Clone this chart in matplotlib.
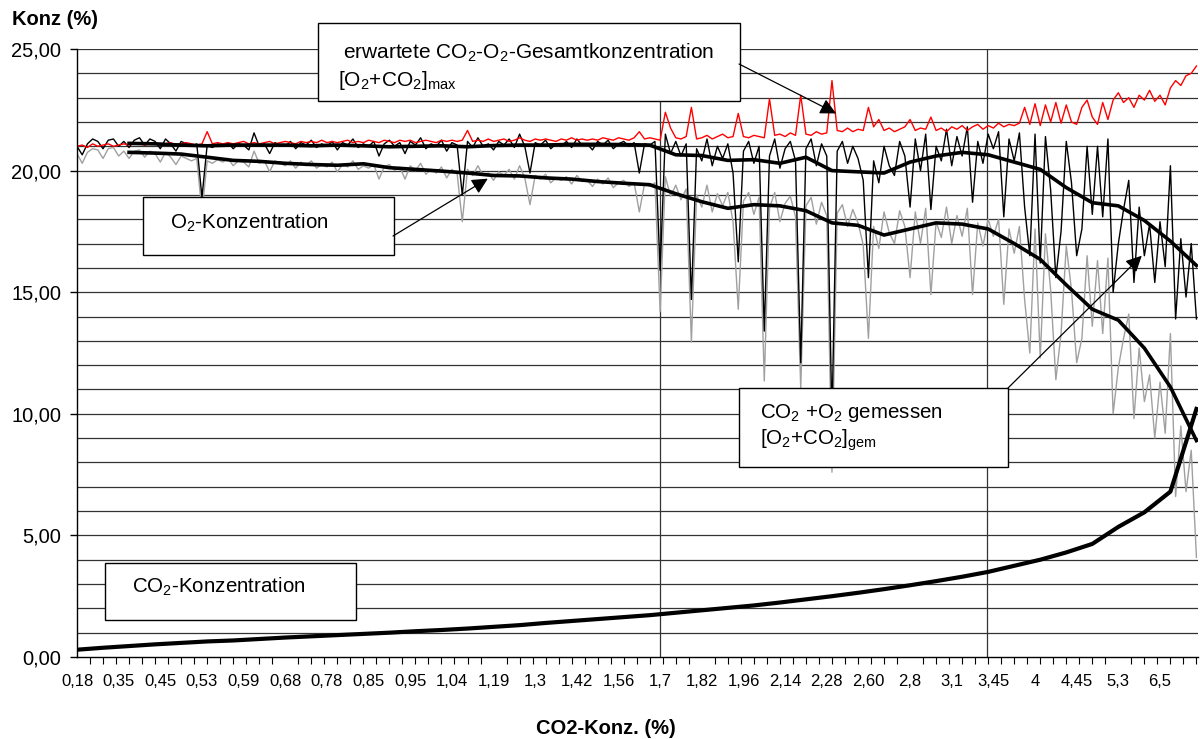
import numpy as np
import matplotlib
matplotlib.use("Agg")
import matplotlib.pyplot as plt
from matplotlib.patches import Rectangle

plt.rcParams['font.family'] = ['Liberation Sans', 'DejaVu Sans']
plt.rcParams['mathtext.fontset'] = 'custom'
plt.rcParams['mathtext.rm'] = 'Liberation Sans'
plt.rcParams['mathtext.it'] = 'Liberation Sans:italic'
plt.rcParams['mathtext.bf'] = 'Liberation Sans:bold'

# Kategorien-Beschriftung (CO2-Konz.), jede 8. Messung beschriftet
co2_labels = ['0,18', '0,35', '0,45', '0,53', '0,59', '0,68', '0,78', '0,85', '0,95',
              '1,04', '1,19', '1,3', '1,42', '1,56', '1,7', '1,82', '1,96', '2,14',
              '2,28', '2,60', '2,8', '3,1', '3,45', '4', '4,45', '5,3', '6,5']
label_step = 8

# erwartete Gesamtkonzentration [O2+CO2]max (rot)
sum_max = [
    21.00, 21.05, 20.95, 21.10, 21.00, 21.05, 21.10, 21.00, 21.05, 21.10,
    21.05, 21.15, 21.10, 21.05, 21.10, 21.15, 21.05, 21.10, 21.15, 21.05,
    21.10, 21.15, 21.10, 21.05, 21.10, 21.60, 21.10, 21.15, 21.10, 21.15,
    21.10, 21.15, 21.20, 21.10, 21.15, 21.10, 21.15, 21.20, 21.10, 21.15,
    21.20, 21.15, 21.10, 21.20, 21.15, 21.20, 21.15, 21.25, 21.15, 21.20,
    21.15, 21.20, 21.25, 21.15, 21.20, 21.15, 21.25, 21.20, 21.15, 21.25,
    21.20, 21.15, 21.25, 21.20, 21.25, 21.15, 21.20, 21.25, 21.20, 21.15,
    21.25, 21.20, 21.25, 21.20, 21.25, 21.65, 21.20, 21.25, 21.20, 21.30,
    21.20, 21.25, 21.30, 21.20, 21.25, 21.35, 21.25, 21.20, 21.30, 21.25,
    21.30, 21.25, 21.20, 21.30, 21.25, 21.35, 21.25, 21.30, 21.25, 21.30,
    21.25, 21.35, 21.30, 21.25, 21.35, 21.30, 21.25, 21.35, 21.60, 21.30,
    21.35, 21.30, 21.25, 22.40, 21.75, 21.35, 21.30, 21.40, 22.60, 21.30,
    21.35, 21.45, 21.30, 21.40, 21.50, 21.35, 21.40, 22.35, 21.40, 21.35,
    21.45, 21.40, 21.35, 22.95, 21.45, 21.50, 21.40, 21.55, 21.45, 23.10,
    21.50, 21.45, 21.60, 21.50, 21.55, 23.70, 21.65, 21.60, 21.75, 21.60,
    21.70, 21.65, 22.60, 21.80, 22.10, 21.65, 21.75, 21.60, 21.70, 21.80,
    22.10, 21.65, 21.75, 21.70, 22.20, 21.65, 21.75, 21.60, 21.80, 21.70,
    21.85, 21.65, 21.80, 21.90, 21.70, 21.85, 21.75, 21.95, 21.80, 21.90,
    21.85, 21.95, 22.60, 21.90, 22.75, 21.85, 22.70, 22.00, 22.80, 21.95,
    22.70, 22.00, 21.90, 22.60, 22.90, 22.20, 21.90, 22.80, 22.10, 22.90,
    23.20, 22.80, 23.00, 22.60, 23.10, 22.90, 23.30, 22.85, 23.10, 22.70,
    23.40, 23.70, 23.50, 23.90, 24.00, 24.30]

# gemessene Summe CO2 + O2 (schwarz, duenn)
sum_gem = [
    21.00, 20.65, 21.10, 21.30, 21.20, 20.90, 21.25, 21.30, 21.00, 21.20,
    20.95, 21.25, 21.35, 21.05, 21.30, 21.20, 20.90, 21.30, 21.10, 20.80,
    21.20, 21.10, 21.00, 21.10, 18.90, 21.05, 20.95, 21.10, 21.00, 21.15,
    20.90, 21.10, 21.05, 20.85, 21.55, 21.00, 21.10, 20.70, 21.15, 21.05,
    21.00, 21.20, 20.90, 21.15, 21.05, 21.25, 20.95, 21.10, 21.00, 21.20,
    20.85, 21.15, 21.05, 21.30, 20.95, 21.10, 21.00, 21.20, 20.60, 21.10,
    21.25, 21.00, 21.15, 20.70, 21.20, 21.05, 21.35, 20.90, 21.10, 21.00,
    21.25, 20.80, 21.15, 21.05, 19.00, 21.20, 20.95, 21.35, 21.00, 21.10,
    20.85, 21.20, 21.05, 21.30, 20.95, 21.50, 21.00, 19.90, 21.15, 21.05,
    21.25, 20.90, 21.10, 21.00, 21.20, 20.95, 21.30, 21.05, 21.10, 20.85,
    21.20, 21.05, 21.25, 20.90, 21.10, 21.20, 21.00, 21.15, 19.90, 21.10,
    21.05, 21.20, 15.90, 21.50, 20.70, 21.20, 20.60, 21.10, 14.70, 20.90,
    20.40, 21.30, 20.20, 21.00, 20.50, 21.10, 19.90, 16.25, 20.80, 21.20,
    20.30, 21.00, 13.40, 20.60, 21.30, 20.10, 20.90, 21.20, 20.40, 12.10,
    20.90, 21.30, 20.20, 21.10, 20.60, 9.80, 20.80, 21.20, 20.30, 21.00,
    20.50, 19.60, 15.60, 20.40, 19.50, 21.00, 20.20, 19.80, 21.20, 20.60,
    18.50, 21.30, 20.00, 21.50, 18.40, 21.00, 20.40, 21.70, 20.20, 21.40,
    20.60, 21.80, 18.70, 21.20, 20.30, 21.50, 20.90, 21.60, 18.10, 21.30,
    20.40, 21.55, 18.50, 16.50, 21.50, 16.20, 21.40, 19.20, 15.60, 17.50,
    21.20, 19.50, 16.50, 17.60, 21.00, 18.20, 21.00, 18.10, 21.30, 15.00,
    17.00, 18.40, 19.60, 15.40, 18.50, 16.50, 17.80, 15.40, 17.90, 16.05,
    20.20, 13.90, 17.20, 14.80, 17.00, 13.90]

# O2-Messwerte (grau)
o2_gem = [
    20.70, 20.30, 20.75, 20.90, 20.85, 20.50, 20.90, 20.95, 20.60, 20.80,
    20.50, 20.80, 20.85, 20.55, 20.80, 20.70, 20.35, 20.75, 20.55, 20.25,
    20.60, 20.50, 20.40, 20.50, 18.30, 20.40, 20.30, 20.45, 20.35, 20.50,
    20.20, 20.40, 20.35, 20.15, 20.80, 20.30, 20.40, 19.95, 20.40, 20.30,
    20.20, 20.40, 20.10, 20.35, 20.20, 20.40, 20.10, 20.25, 20.15, 20.35,
    19.95, 20.25, 20.15, 20.40, 20.05, 20.20, 20.10, 20.25, 19.65, 20.15,
    20.25, 20.00, 20.15, 19.65, 20.20, 20.00, 20.30, 19.85, 20.05, 19.90,
    20.15, 19.70, 20.05, 19.90, 17.90, 20.05, 19.80, 20.20, 19.80, 19.90,
    19.60, 19.95, 19.80, 20.05, 19.65, 20.20, 19.70, 18.60, 19.80, 19.65,
    19.85, 19.50, 19.70, 19.60, 19.75, 19.45, 19.80, 19.55, 19.60, 19.35,
    19.65, 19.45, 19.70, 19.30, 19.50, 19.60, 19.35, 19.50, 18.30, 19.45,
    19.35, 19.50, 14.20, 19.75, 18.95, 19.40, 18.80, 19.25, 12.95, 19.00,
    18.50, 19.40, 18.30, 19.05, 18.55, 19.10, 17.90, 14.30, 18.75, 19.10,
    18.20, 18.90, 11.35, 18.45, 19.10, 17.90, 18.65, 18.95, 18.10, 11.05,
    18.55, 18.90, 17.80, 18.70, 18.15, 7.60, 18.25, 18.60, 17.70, 18.40,
    17.85, 16.95, 13.10, 17.70, 16.80, 18.30, 17.45, 17.00, 18.35, 17.70,
    15.60, 18.30, 17.00, 18.45, 14.90, 17.90, 17.25, 18.50, 17.00, 18.15,
    17.30, 18.45, 14.90, 17.85, 16.90, 18.00, 17.30, 18.00, 14.50, 17.60,
    16.60, 17.70, 14.70, 12.50, 17.60, 12.30, 17.40, 15.10, 11.40, 13.30,
    16.90, 15.10, 12.10, 13.10, 16.50, 13.60, 16.30, 13.30, 16.40, 10.00,
    11.90, 13.10, 14.10, 9.80, 12.70, 10.50, 11.60, 9.00, 11.30, 9.20,
    13.30, 6.60, 9.50, 6.80, 8.50, 4.10]

# geglaettete Kurven, jede 5. Messung ab Messung 10
o2_glatt = [20.75, 20.72, 20.68, 20.55, 20.42, 20.38, 20.30, 20.25, 20.22, 20.28,
            20.12, 20.05, 19.98, 19.90, 19.80, 19.78, 19.70, 19.65, 19.55, 19.48,
            19.42, 19.05, 18.72, 18.45, 18.60, 18.55, 18.35, 17.85, 17.75, 17.35,
            17.60, 17.85, 17.80, 17.60, 17.00, 16.35, 15.30, 14.30, 13.85, 12.70,
            11.10, 8.90]
sum_glatt = [21.12, 21.10, 21.05, 21.02, 21.05, 21.05, 21.05, 21.02, 21.05, 21.02,
             20.98, 21.00, 21.02, 20.98, 21.03, 21.05, 21.05, 21.08, 21.08, 21.07,
             21.05, 20.65, 20.62, 20.42, 20.45, 20.30, 20.55, 20.00, 19.95, 19.90,
             20.35, 20.60, 20.75, 20.65, 20.35, 20.05, 19.30, 18.68, 18.55, 17.95,
             17.10, 16.10]

# CO2-Konzentration, jede 5. Messung ab Messung 0
co2_konz = [0.30, 0.38, 0.45, 0.52, 0.58, 0.64, 0.68, 0.74, 0.80, 0.85,
            0.90, 0.95, 1.00, 1.06, 1.11, 1.17, 1.24, 1.31, 1.40, 1.48,
            1.56, 1.64, 1.72, 1.82, 1.92, 2.02, 2.12, 2.24, 2.37, 2.50,
            2.64, 2.79, 2.95, 3.12, 3.30, 3.50, 3.75, 4.00, 4.30, 4.65,
            5.35, 5.95, 6.80, 10.20]

n = len(sum_gem)
x_roh = np.arange(n)
x_glatt = np.arange(10, n, 5)
x_co2 = np.arange(0, n, 5)

fig = plt.figure(figsize=(12, 7.39), dpi=100)
ax = fig.add_axes([77 / 1200, 82 / 739, 1121 / 1200, 608 / 739])

ax.set_xlim(0, 215.3)
ax.set_ylim(0, 25)

# Gitter
for yv in range(1, 26):
    ax.axhline(yv, color='#333333', lw=0.9, zorder=0.5)
ax.axvline(14 * label_step, color='#333333', lw=0.9, zorder=1)
ax.axvline(22 * label_step - 1.2, color='#333333', lw=0.9, zorder=1)

ax.plot(x_roh, o2_gem, color='#a0a0a0', lw=1.0, zorder=2)
ax.plot(x_roh, sum_gem, color='black', lw=1.0, zorder=2.2)
ax.plot(x_roh, sum_max, color='#ff0000', lw=1.0, zorder=2.4)
ax.plot(x_glatt, o2_glatt, color='black', lw=2.6, zorder=3)
ax.plot(x_glatt, sum_glatt, color='black', lw=2.6, zorder=3)
ax.plot(x_co2, co2_konz, color='black', lw=3.0, zorder=3)

for s in ['top', 'right']:
    ax.spines[s].set_visible(False)
for s in ['left', 'bottom']:
    ax.spines[s].set_linewidth(1.0)
    ax.spines[s].set_zorder(4)

ax.set_yticks(np.arange(0, 26, 5))
ax.set_yticklabels([f'{v:.2f}'.replace('.', ',') for v in range(0, 26, 5)], fontsize=14.5)
ax.tick_params(axis='y', length=5, width=1, pad=6.5)

ax.set_xticks(np.arange(len(co2_labels)) * label_step)
ax.set_xticklabels(co2_labels, fontsize=12)
ax.set_xticks(np.arange(0, 215.3, 2.5), minor=True)
ax.tick_params(axis='x', which='major', length=0, pad=12)
ax.tick_params(axis='x', which='minor', length=5, width=0.8)

ax.text(-0.058, 1.048, 'Konz (%)', transform=ax.transAxes, fontsize=14.5,
        fontweight='bold', va='center', ha='left')
ax.text(0.472, -0.117, 'CO2-Konz. (%)', transform=ax.transAxes, fontsize=14.5,
        fontweight='bold', va='center', ha='center')


def kasten(x0, y0, x1, y1):
    r = Rectangle((x0, y0), x1 - x0, y1 - y0, transform=ax.transAxes,
                  facecolor='white', edgecolor='black', lw=1.0,
                  clip_on=False, zorder=5)
    ax.add_patch(r)


pfeil = dict(arrowstyle='-|>', color='black', lw=0.9, mutation_scale=24,
             shrinkA=0, shrinkB=0)

# Kasten oben
kasten(0.215, 0.9145, 0.5914, 1.0428)
ax.text(0.2373, 0.993, r'erwartete CO$_2$-O$_2$-Gesamtkonzentration',
        transform=ax.transAxes, fontsize=15, va='center', zorder=6)
ax.text(0.2328, 0.949, r'[O$_2$+CO$_2$]$_{\mathrm{max}}$',
        transform=ax.transAxes, fontsize=15, va='center', zorder=6)
ax.annotate('', xy=(145.8, 22.35), xycoords='data', xytext=(0.5906, 0.9753),
            textcoords='axes fraction', arrowprops=pfeil, zorder=6,
            annotation_clip=False)

# Kasten O2
kasten(0.0589, 0.6612, 0.2828, 0.7566)
ax.text(0.083, 0.7138, r'O$_2$-Konzentration', transform=ax.transAxes,
        fontsize=14.8, va='center', zorder=6)
ax.annotate('', xy=(78.9, 19.67), xycoords='data', xytext=(0.2819, 0.6924),
            textcoords='axes fraction', arrowprops=pfeil, zorder=6)

# Kasten CO2 + O2
kasten(0.5906, 0.3125, 0.8305, 0.4424)
ax.text(0.6093, 0.4013, r'CO$_2$ +O$_2$ gemessen', transform=ax.transAxes,
        fontsize=14.8, va='center', zorder=6)
ax.text(0.6093, 0.3569, r'[O$_2$+CO$_2$]$_{\mathrm{gem}}$', transform=ax.transAxes,
        fontsize=14.8, va='center', zorder=6)
ax.annotate('', xy=(204.5, 16.5), xycoords='data', xytext=(0.8305, 0.4424),
            textcoords='axes fraction', arrowprops=pfeil, zorder=6)

# Kasten CO2
kasten(0.025, 0.0609, 0.2489, 0.1546)
ax.text(0.049, 0.1151, r'CO$_2$-Konzentration', transform=ax.transAxes,
        fontsize=14.8, va='center', zorder=6)

fig.savefig('out.png', dpi=100)
